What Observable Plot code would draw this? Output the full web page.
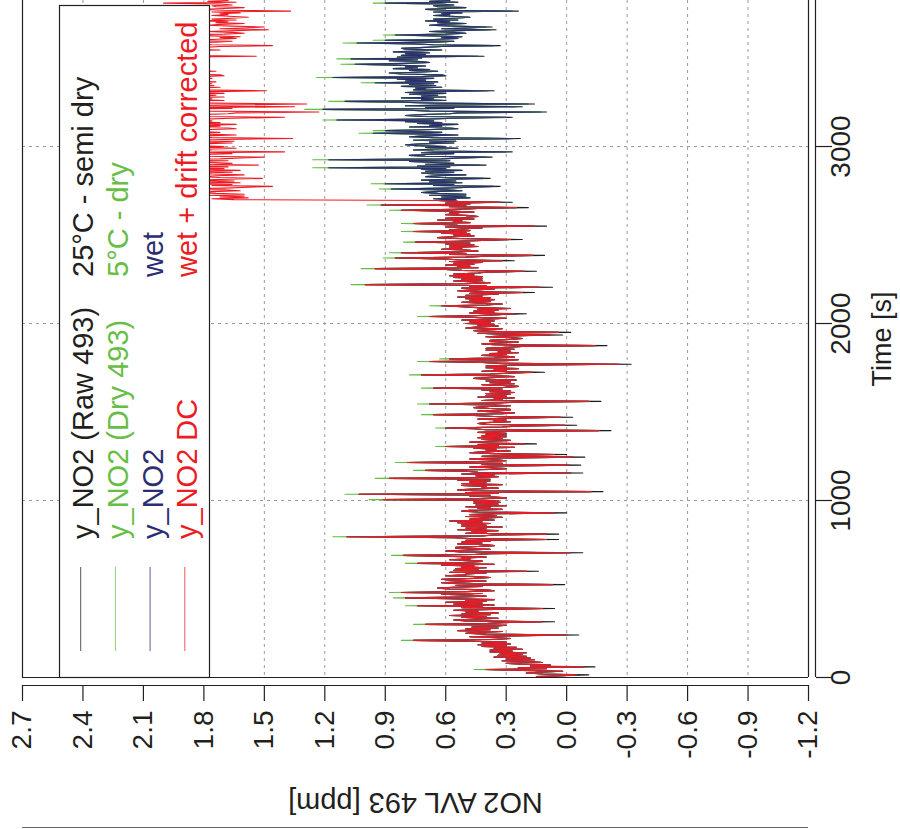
<!DOCTYPE html>
<html><head><meta charset="utf-8">
<script src="https://cdn.jsdelivr.net/npm/d3@7"></script>
<script src="https://cdn.jsdelivr.net/npm/@observablehq/plot@0.6"></script>
<style>html,body{margin:0;padding:0;background:#fff;}#chart svg{display:block;}</style>
</head><body><div id="chart"></div>
<script>
// sampling grid [s]: one reading every 5 s, 0 … 3825 s
const times = d3.range(0, 3826, 5);

const raw = [
.08,.15,.02,-.11,.12,.20,.14,.02,.22,.40,.10,.24,-.14,.18,.08,.22,.30,.12,.18,.32,.16,.30,.18,.36,.20,.34,.22,.33,.20,.38,
.27,.38,.22,.36,.25,.42,.30,.44,.28,.42,.30,.48,.76,.36,.28,.35,.48,.30,-.06,.40,.50,.44,.32,.54,.38,.50,.34,.47,.36,.30,
.70,.40,.32,.06,.50,.56,.45,.34,.52,.40,.58,.38,.52,.34,.50,.44,.56,.36,.06,.52,.42,.74,.36,.56,.42,.60,.40,.50,.36,.58,
.80,.52,.40,.48,.62,.42,.82,.50,.36,.40,.58,.64,.56,.42,.55,.01,.54,.62,.52,.40,.58,.62,.46,.38,.45,.60,.50,.50,.40,.58,
.14,.56,.44,.55,.40,.52,.46,.62,.36,.74,.52,.42,.42,.58,.48,.52,.40,.62,.81,.46,.38,-.08,.52,.60,.48,.38,.55,.55,.44,.36,
.40,.54,.42,.52,.38,.50,.04,.48,.56,1.09,.42,.36,.04,.50,.40,.47,.34,.54,.40,.50,.32,.52,.40,.52,.38,.54,.42,.58,.36,.48,
.42,.32,.50,.35,.48,.36,.00,.44,.52,.48,.32,.44,.38,.50,.30,.45,.34,.46,.33,.46,.34,.91,.42,.30,.36,.48,.38,1.03,.34,.50,
-.18,.46,.54,.46,.34,.42,.40,.52,.32,.52,.40,.48,.38,.54,.38,.88,.46,.34,.45,.36,.52,-.08,.44,.50,.70,.38,.30,.38,.48,.36,
-.07,.42,.32,.79,.44,.30,.35,.48,.34,-.09,.42,.30,.00,.36,.48,.42,.28,.40,.35,.46,.26,.60,.34,.44,.15,.38,.48,.38,.28,.42,
.32,.44,.30,.42,.30,.40,.30,.44,.32,-.22,.40,.46,.60,.32,.26,-.05,.40,.44,.40,.28,.36,.30,.44,.32,-.03,.36,.46,.66,.32,.26,
.35,.44,.28,.28,.38,.46,.42,.28,.36,.68,.38,.26,-.17,.42,.32,.36,.26,.44,.30,.40,.28,.40,.26,.38,.28,.42,.32,.66,.30,.24,
.32,.42,.26,.38,.28,.40,.25,.38,.46,.40,.26,.34,.72,.38,.26,.11,.42,.30,.36,.24,.40,.30,.40,.28,-.32,.32,.42,.68,.30,.24,
.58,.36,.26,.30,.42,.30,.38,.24,.34,.28,.40,.26,.40,.30,.22,-.20,.36,.42,.33,.24,.38,.38,.28,.22,.28,.40,.30,.02,.32,.44,
-.02,.34,.46,.40,.32,.50,.45,.34,.44,.36,.50,.38,.48,.36,.52,.40,.30,.46,.68,.44,.34,.20,.48,.36,.46,.34,.44,.28,.44,.52,
.62,.40,.32,.42,.52,.38,.48,.36,.50,.38,.54,.42,.50,.34,.48,.16,.46,.54,.45,.36,.52,.07,.48,.40,1.00,.50,.38,.46,.56,.42,
.52,.42,.56,.42,.58,.46,.56,.44,.40,.15,.52,.60,.95,.44,.54,.48,.60,.46,.56,.42,.58,.26,.54,.62,.85,.50,.40,.11,.58,.50,
.82,.54,.44,.50,.62,.52,.58,.44,.58,.46,.60,.48,.75,.54,.42,.22,.56,.64,.56,.46,.56,.48,.62,.50,.76,.48,.58,.50,.42,.60,
.10,.54,.62,.76,.48,.56,.52,.64,.46,.60,.50,.44,.48,.60,.54,.58,.46,.58,.82,.56,.44,.19,.58,.50,.92,.48,.60,.27,.54,.64,
.55,.66,.48,.62,.50,.68,.50,.64,.72,.66,.52,.60,.87,.60,.48,.33,.66,.56,.90,.52,.68,.55,.72,.58,.38,.62,.70,.64,.50,.66,
.72,.56,.70,.52,.72,.60,1.18,.58,.74,.40,.70,.56,.66,.78,.58,1.18,.62,.52,.37,.70,.78,.70,.56,.72,.27,.66,.76,.68,.54,.70,
.60,.74,.80,.72,.56,.68,.55,.76,.60,.23,.66,.78,.70,.54,.68,.96,.62,.76,.90,.70,.54,.58,.78,.62,.68,.54,.74,.62,.80,.66,
1.14,.70,.56,.27,.72,.80,.72,.58,.54,.10,.68,.78,1.21,.56,.70,.22,.80,.62,.16,.66,.82,1.10,.60,.72,.66,.82,.60,.72,.64,.78,
.60,.80,.66,.36,.76,.70,.75,.62,.82,.65,.78,.66,.95,.64,.80,.70,.84,.66,1.16,.72,.60,.62,.82,.88,.74,.64,.78,.68,.86,.74,
.80,.70,.86,1.05,.80,.68,.72,.88,.74,1.07,.72,.84,.41,.82,.70,.80,.68,.86,.74,.62,.80,.82,.70,.62,.33,.66,.76,1.04,.64,.56,
.90,.66,.54,.62,.52,.66,.85,.60,.50,.56,.68,.54,.35,.62,.50,.37,.56,.68,.62,.50,.64,.58,.70,.54,.66,.56,.48,.55,.66,.58,
.62,.52,.66,.24,.60,.70,.60,.50,.64,.66,.56,.62,.90,.54,.68,.58];

const dry = [
.08,.15,.02,-.05,.12,.20,.14,.02,.22,.46,.10,.24,-.08,.18,.08,.22,.30,.12,.18,.32,.16,.30,.18,.36,.20,.34,.22,.33,.20,.38,
.27,.38,.22,.36,.25,.42,.30,.44,.28,.42,.30,.48,.82,.36,.28,.35,.48,.30,.00,.40,.50,.44,.32,.54,.38,.50,.34,.47,.36,.30,
.76,.40,.32,.12,.50,.56,.45,.34,.52,.40,.58,.38,.52,.34,.50,.44,.56,.36,.12,.52,.42,.80,.36,.56,.42,.60,.40,.50,.36,.58,
.86,.52,.40,.48,.62,.42,.88,.50,.36,.40,.58,.64,.56,.42,.55,.07,.54,.62,.52,.40,.58,.62,.46,.38,.45,.60,.50,.50,.40,.58,
.20,.56,.44,.55,.40,.52,.46,.62,.36,.80,.52,.42,.42,.58,.48,.52,.40,.62,.87,.46,.38,-.02,.52,.60,.48,.38,.55,.55,.44,.36,
.40,.54,.42,.52,.38,.50,.10,.48,.56,1.16,.42,.36,.10,.50,.40,.47,.34,.54,.40,.50,.32,.52,.40,.52,.38,.54,.42,.58,.36,.48,
.42,.32,.50,.35,.48,.36,.06,.44,.52,.48,.32,.44,.38,.50,.30,.45,.34,.46,.33,.46,.34,.98,.42,.30,.36,.48,.38,1.10,.34,.50,
-.12,.46,.54,.46,.34,.42,.40,.52,.32,.52,.40,.48,.38,.54,.38,.95,.46,.34,.45,.36,.52,-.02,.44,.50,.76,.38,.30,.38,.48,.36,
-.01,.42,.32,.85,.44,.30,.35,.48,.34,-.03,.42,.30,.06,.36,.48,.42,.28,.40,.35,.46,.26,.65,.34,.44,.21,.38,.48,.38,.28,.42,
.32,.44,.30,.42,.30,.40,.30,.44,.32,-.16,.40,.46,.65,.32,.26,.01,.40,.44,.40,.28,.36,.30,.44,.32,.03,.36,.46,.72,.32,.26,
.35,.44,.28,.28,.38,.46,.42,.28,.36,.74,.38,.26,-.11,.42,.32,.36,.26,.44,.30,.40,.28,.40,.26,.38,.28,.42,.32,.72,.30,.24,
.32,.42,.26,.38,.28,.40,.25,.38,.46,.40,.26,.34,.78,.38,.26,.17,.42,.30,.36,.24,.40,.30,.40,.28,-.26,.32,.42,.74,.30,.24,
.63,.36,.26,.30,.42,.30,.38,.24,.34,.28,.40,.26,.40,.30,.22,-.14,.36,.42,.33,.24,.38,.38,.28,.22,.28,.40,.30,.08,.32,.44,
.04,.34,.46,.40,.32,.50,.45,.34,.44,.36,.50,.38,.48,.36,.52,.40,.30,.46,.74,.44,.34,.26,.48,.36,.46,.34,.44,.28,.44,.52,
.68,.40,.32,.42,.52,.38,.48,.36,.50,.38,.54,.42,.50,.34,.48,.22,.46,.54,.45,.36,.52,.13,.48,.40,1.07,.50,.38,.46,.56,.42,
.52,.42,.56,.42,.58,.46,.56,.44,.40,.21,.52,.60,1.02,.44,.54,.48,.60,.46,.56,.42,.58,.32,.54,.62,.91,.50,.40,.17,.58,.50,
.88,.54,.44,.50,.62,.52,.58,.44,.58,.46,.60,.48,.81,.54,.42,.28,.56,.64,.56,.46,.56,.48,.62,.50,.82,.48,.58,.50,.42,.60,
.16,.54,.62,.82,.48,.56,.52,.64,.46,.60,.50,.44,.48,.60,.54,.58,.46,.58,.88,.56,.44,.25,.58,.50,.99,.48,.60,.33,.54,.64,
.55,.66,.48,.62,.50,.68,.50,.64,.72,.66,.52,.60,.93,.60,.48,.36,.66,.56,.97,.52,.68,.55,.72,.58,.41,.62,.70,.64,.50,.66,
.72,.56,.70,.52,.72,.60,1.26,.58,.74,.43,.70,.56,.66,.78,.58,1.26,.62,.52,.40,.70,.78,.70,.56,.72,.30,.66,.76,.68,.54,.70,
.60,.74,.80,.72,.56,.68,.55,.76,.60,.26,.66,.78,.70,.54,.68,1.03,.62,.76,.96,.70,.54,.58,.78,.62,.68,.54,.74,.62,.80,.66,
1.21,.70,.56,.30,.72,.80,.72,.58,.54,.13,.68,.78,1.30,.56,.70,.25,.80,.62,.19,.66,.82,1.18,.60,.72,.66,.82,.60,.72,.64,.78,
.60,.80,.66,.39,.76,.70,.75,.62,.82,.65,.78,.66,1.02,.64,.80,.70,.84,.66,1.24,.72,.60,.62,.82,.88,.74,.64,.78,.68,.86,.74,
.80,.70,.86,1.12,.80,.68,.72,.88,.74,1.14,.72,.84,.44,.82,.70,.80,.68,.86,.74,.62,.80,.82,.70,.62,.36,.66,.76,1.11,.64,.56,
.96,.66,.54,.62,.52,.66,.91,.60,.50,.56,.68,.54,.38,.62,.50,.40,.56,.68,.62,.50,.64,.58,.70,.54,.66,.56,.48,.55,.66,.58,
.62,.52,.66,.27,.60,.70,.60,.50,.64,.66,.56,.62,.96,.54,.68,.58];

const wet = [
.08,.15,.02,-.05,.12,.20,.14,.02,.22,.40,.10,.24,-.08,.18,.08,.22,.30,.12,.18,.32,.16,.30,.18,.36,.20,.34,.22,.33,.20,.38,
.27,.38,.22,.36,.25,.42,.30,.44,.28,.42,.30,.48,.76,.36,.28,.35,.48,.30,.00,.40,.50,.44,.32,.54,.38,.50,.34,.47,.36,.30,
.70,.40,.32,.12,.50,.56,.45,.34,.52,.40,.58,.38,.52,.34,.50,.44,.56,.36,.12,.52,.42,.74,.36,.56,.42,.60,.40,.50,.36,.58,
.80,.52,.40,.48,.62,.42,.82,.50,.36,.40,.58,.64,.56,.42,.55,.07,.54,.62,.52,.40,.58,.62,.46,.38,.45,.60,.50,.50,.40,.58,
.20,.56,.44,.55,.40,.52,.46,.62,.36,.74,.52,.42,.42,.58,.48,.52,.40,.62,.81,.46,.38,-.02,.52,.60,.48,.38,.55,.55,.44,.36,
.40,.54,.42,.52,.38,.50,.10,.48,.56,1.09,.42,.36,.10,.50,.40,.47,.34,.54,.40,.50,.32,.52,.40,.52,.38,.54,.42,.58,.36,.48,
.42,.32,.50,.35,.48,.36,.06,.44,.52,.48,.32,.44,.38,.50,.30,.45,.34,.46,.33,.46,.34,.91,.42,.30,.36,.48,.38,1.03,.34,.50,
-.12,.46,.54,.46,.34,.42,.40,.52,.32,.52,.40,.48,.38,.54,.38,.88,.46,.34,.45,.36,.52,-.02,.44,.50,.70,.38,.30,.38,.48,.36,
-.01,.42,.32,.79,.44,.30,.35,.48,.34,-.03,.42,.30,.06,.36,.48,.42,.28,.40,.35,.46,.26,.60,.34,.44,.21,.38,.48,.38,.28,.42,
.32,.44,.30,.42,.30,.40,.30,.44,.32,-.16,.40,.46,.60,.32,.26,.01,.40,.44,.40,.28,.36,.30,.44,.32,.03,.36,.46,.66,.32,.26,
.35,.44,.28,.28,.38,.46,.42,.28,.36,.68,.38,.26,-.11,.42,.32,.36,.26,.44,.30,.40,.28,.40,.26,.38,.28,.42,.32,.66,.30,.24,
.32,.42,.26,.38,.28,.40,.25,.38,.46,.40,.26,.34,.72,.38,.26,.17,.42,.30,.36,.24,.40,.30,.40,.28,-.26,.32,.42,.68,.30,.24,
.58,.36,.26,.30,.42,.30,.38,.24,.34,.28,.40,.26,.40,.30,.22,-.14,.36,.42,.33,.24,.38,.38,.28,.22,.28,.40,.30,.08,.32,.44,
.04,.34,.46,.40,.32,.50,.45,.34,.44,.36,.50,.38,.48,.36,.52,.40,.30,.46,.68,.44,.34,.26,.48,.36,.46,.34,.44,.28,.44,.52,
.62,.40,.32,.42,.52,.38,.48,.36,.50,.38,.54,.42,.50,.34,.48,.22,.46,.54,.45,.36,.52,.13,.48,.40,1.00,.50,.38,.46,.56,.42,
.52,.42,.56,.42,.58,.46,.56,.44,.40,.21,.52,.60,.95,.44,.54,.48,.60,.46,.56,.42,.58,.32,.54,.62,.85,.50,.40,.17,.58,.50,
.82,.54,.44,.50,.62,.52,.58,.44,.58,.46,.60,.48,.75,.54,.42,.28,.56,.64,.56,.46,.56,.48,.62,.50,.76,.48,.58,.50,.42,.60,
.16,.54,.62,.76,.48,.56,.52,.64,.46,.60,.50,.44,.48,.60,.54,.58,.46,.58,.82,.56,.44,.25,.58,.50,.92,.48,.60,.33,.54,.64,
.55,.66,.48,.62,.50,.68,.50,.64,.72,.66,.52,.60,.87,.60,.48,.36,.66,.56,.90,.52,.68,.55,.72,.58,.41,.62,.70,.64,.50,.66,
.72,.56,.70,.52,.72,.60,1.18,.58,.74,.43,.70,.56,.66,.78,.58,1.18,.62,.52,.40,.70,.78,.70,.56,.72,.30,.66,.76,.68,.54,.70,
.60,.74,.80,.72,.56,.68,.55,.76,.60,.26,.66,.78,.70,.54,.68,.96,.62,.76,.90,.70,.54,.58,.78,.62,.68,.54,.74,.62,.80,.66,
1.14,.70,.56,.30,.72,.80,.72,.58,.54,.13,.68,.78,1.21,.56,.70,.25,.80,.62,.19,.66,.82,1.10,.60,.72,.66,.82,.60,.72,.64,.78,
.60,.80,.66,.39,.76,.70,.75,.62,.82,.65,.78,.66,.95,.64,.80,.70,.84,.66,1.16,.72,.60,.62,.82,.88,.74,.64,.78,.68,.86,.74,
.80,.70,.86,1.05,.80,.68,.72,.88,.74,1.07,.72,.84,.44,.82,.70,.80,.68,.86,.74,.62,.80,.82,.70,.62,.36,.66,.76,1.04,.64,.56,
.90,.66,.54,.62,.52,.66,.85,.60,.50,.56,.68,.54,.38,.62,.50,.40,.56,.68,.62,.50,.64,.58,.70,.54,.66,.56,.48,.55,.66,.58,
.62,.52,.66,.27,.60,.70,.60,.50,.64,.66,.56,.62,.90,.54,.68,.58];

const dc = [
.08,.15,.02,-.05,.12,.20,.14,.02,.22,.40,.10,.24,-.08,.18,.08,.22,.30,.12,.18,.32,.16,.30,.18,.36,.20,.34,.22,.33,.20,.38,
.27,.38,.22,.36,.25,.42,.30,.44,.28,.42,.30,.48,.76,.36,.28,.35,.48,.30,.00,.40,.50,.44,.32,.54,.38,.50,.34,.47,.36,.30,
.70,.40,.32,.12,.50,.56,.45,.34,.52,.40,.58,.38,.52,.34,.50,.44,.56,.36,.12,.52,.42,.74,.36,.56,.42,.60,.40,.50,.36,.58,
.80,.52,.40,.48,.62,.42,.82,.50,.36,.40,.58,.64,.56,.42,.55,.07,.54,.62,.52,.40,.58,.62,.46,.38,.45,.60,.50,.50,.40,.58,
.20,.56,.44,.55,.40,.52,.46,.62,.36,.74,.52,.42,.42,.58,.48,.52,.40,.62,.81,.46,.38,-.02,.52,.60,.48,.38,.55,.55,.44,.36,
.40,.54,.42,.52,.38,.50,.10,.48,.56,1.09,.42,.36,.10,.50,.40,.47,.34,.54,.40,.50,.32,.52,.40,.52,.38,.54,.42,.58,.36,.48,
.42,.32,.50,.35,.48,.36,.06,.44,.52,.48,.32,.44,.38,.50,.30,.45,.34,.46,.33,.46,.34,.91,.42,.30,.36,.48,.38,1.03,.34,.50,
-.12,.46,.54,.46,.34,.42,.40,.52,.32,.52,.40,.48,.38,.54,.38,.88,.46,.34,.45,.36,.52,-.02,.44,.50,.70,.38,.30,.38,.48,.36,
-.01,.42,.32,.79,.44,.30,.35,.48,.34,-.03,.42,.30,.06,.36,.48,.42,.28,.40,.35,.46,.26,.60,.34,.44,.21,.38,.48,.38,.28,.42,
.32,.44,.30,.42,.30,.40,.30,.44,.32,-.16,.40,.46,.60,.32,.26,.01,.40,.44,.40,.28,.36,.30,.44,.32,.03,.36,.46,.66,.32,.26,
.35,.44,.28,.28,.38,.46,.42,.28,.36,.68,.38,.26,-.11,.42,.32,.36,.26,.44,.30,.40,.28,.40,.26,.38,.28,.42,.32,.66,.30,.24,
.32,.42,.26,.38,.28,.40,.25,.38,.46,.40,.26,.34,.72,.38,.26,.17,.42,.30,.36,.24,.40,.30,.40,.28,-.26,.32,.42,.68,.30,.24,
.58,.36,.26,.30,.42,.30,.38,.24,.34,.28,.40,.26,.40,.30,.22,-.14,.36,.42,.33,.24,.38,.38,.28,.22,.28,.40,.30,.08,.32,.44,
.04,.34,.46,.40,.32,.50,.45,.34,.44,.36,.50,.38,.48,.36,.52,.40,.30,.46,.68,.44,.34,.26,.48,.36,.46,.34,.44,.28,.44,.52,
.62,.40,.32,.42,.52,.38,.48,.36,.50,.38,.54,.42,.50,.34,.48,.22,.46,.54,.45,.36,.52,.13,.48,.40,1.00,.50,.38,.46,.56,.42,
.52,.42,.56,.42,.58,.46,.56,.44,.40,.21,.52,.60,.95,.44,.54,.48,.60,.46,.56,.42,.58,.32,.54,.62,.85,.50,.40,.17,.58,.50,
.82,.54,.44,.50,.62,.52,.58,.44,.58,.46,.60,.48,.75,.54,.42,.28,.56,.64,.56,.46,.56,.48,.62,.50,.76,.48,.58,.50,.42,.60,
.16,.54,.62,.76,.48,.56,.52,.64,.46,.60,.50,.44,.48,.60,.54,.58,.46,.58,.82,.56,.44,.25,.58,.50,.92,.48,.60,.33,.54,.64,
1.65,1.76,1.58,1.72,1.60,1.78,1.60,1.74,1.82,1.76,1.62,1.70,1.97,1.70,1.58,1.46,1.76,1.66,2.00,1.62,1.78,1.65,1.82,1.68,1.51,1.72,1.80,1.74,1.60,1.76,
1.82,1.66,1.80,1.62,1.82,1.70,2.28,1.68,1.84,1.53,1.80,1.66,1.76,1.88,1.68,2.28,1.72,1.62,1.50,1.80,1.88,1.80,1.66,1.82,1.40,1.76,1.86,1.78,1.64,1.80,
1.70,1.84,1.90,1.82,1.66,1.78,1.65,1.86,1.70,1.36,1.76,1.88,1.80,1.64,1.78,2.06,1.72,1.86,2.00,1.80,1.64,1.68,1.88,1.72,1.78,1.64,1.84,1.72,1.90,1.76,
2.24,1.80,1.66,1.40,1.82,1.90,1.82,1.68,1.64,1.23,1.78,1.88,2.31,1.66,1.80,1.35,1.90,1.72,1.29,1.76,1.92,2.20,1.70,1.82,1.76,1.92,1.70,1.82,1.74,1.88,
1.70,1.90,1.76,1.49,1.86,1.80,1.85,1.72,1.92,1.75,1.88,1.76,2.05,1.74,1.90,1.80,1.94,1.76,2.26,1.82,1.70,1.72,1.92,1.98,1.84,1.74,1.88,1.78,1.96,1.84,
1.90,1.80,1.96,2.15,1.90,1.78,1.82,1.98,1.84,2.17,1.82,1.94,1.54,1.92,1.80,1.90,1.78,1.96,1.84,1.72,1.90,1.92,1.80,1.72,1.46,1.76,1.86,2.14,1.74,1.66,
2.00,1.76,1.64,1.72,1.62,1.76,1.95,1.70,1.60,1.66,1.78,1.64,1.48,1.72,1.60,1.50,1.66,1.78,1.72,1.60,1.74,1.68,1.80,1.64,1.76,1.66,1.58,1.65,1.76,1.68,
1.72,1.62,1.76,1.37,1.70,1.80,1.70,1.60,1.74,1.76,1.66,1.72,2.00,1.64,1.78,1.68];

const no2Ticks = [2.7, 2.4, 2.1, 1.8, 1.5, 1.2, 0.9, 0.6, 0.3, 0.0, -0.3, -0.6, -0.9, -1.2];
const timeTicks = [0, 1000, 2000, 3000];
const seriesNames = ["y_NO2 (Raw 493)", "y_NO2 (Dry 493)", "y_NO2", "y_NO2 DC"];
const seriesNotes = ["25°C - semi dry", "5°C - dry", "wet", "wet + drift corrected"];
const seriesColors = ["#231f20", "#67bd45", "#2b2e72", "#ed1c24"];

const pair = (ts, vs) => d3.range(Math.min(ts.length, vs.length)).map(i => ({t: ts[i], v: vs[i]}));
const rawRows = pair(times, raw), dryRows = pair(times, dry), wetRows = pair(times, wet), dcRows = pair(times, dc);

const FONT = "'Liberation Sans', Arial, Helvetica, sans-serif";
const ink = "#231f20";
const LW = 1.1;

const chart = Plot.plot({
  width: 900, height: 829,
  marginLeft: 22, marginRight: 92, marginTop: 0, marginBottom: 152,
  style: {fontFamily: FONT, fontSize: "28px", background: "#fff", color: ink},
  x: {domain: [2.7, -1.2], label: null},
  y: {domain: [0, 3825], label: null},
  marks: [
    Plot.ruleX(no2Ticks.slice(1, -1), {stroke: "#9a9a9a", strokeDasharray: "3,4", strokeWidth: 1}),
    Plot.ruleY(timeTicks.slice(1), {stroke: "#9a9a9a", strokeDasharray: "3,4", strokeWidth: 1}),
    Plot.line(rawRows, {x: "v", y: "t", stroke: seriesColors[0], strokeWidth: LW, clip: true}),
    Plot.line(dryRows, {x: "v", y: "t", stroke: seriesColors[1], strokeWidth: LW, clip: true}),
    Plot.line(wetRows, {x: "v", y: "t", stroke: seriesColors[2], strokeWidth: LW, clip: true}),
    Plot.line(dcRows, {x: "v", y: "t", stroke: seriesColors[3], strokeWidth: LW, clip: true}),
    // legend box (top-left corner of the original, unrotated figure)
    Plot.frame({fill: "#fff", stroke: ink, strokeWidth: 1.2, insetLeft: 37, insetRight: 599, insetTop: 5}),
    // plot box
    Plot.ruleX([2.7, -1.2], {stroke: ink, strokeWidth: 1.2}),
    Plot.ruleY([0], {stroke: ink, strokeWidth: 1.2}),
    // detached axis lines
    Plot.ruleY([0], {dy: 8, stroke: ink, strokeWidth: 1.2}),
    Plot.ruleX([-1.2], {dx: 7, stroke: ink, strokeWidth: 1.2}),
    Plot.ruleY([0], {dy: 150, stroke: "#666", strokeWidth: 1}),
    Plot.axisX({ticks: no2Ticks, anchor: "bottom", tickSize: 16, dy: 8, tickPadding: 9, tickRotate: -90,
      tickFormat: d => d.toFixed(1), label: null, fontSize: 28, strokeWidth: 1.2}),
    Plot.axisY({ticks: timeTicks, anchor: "right", tickSize: 16, dx: 7, tickPadding: 18, tickRotate: -90,
      tickFormat: d => String(d), label: null, fontSize: 28, strokeWidth: 1.2}),
    Plot.text(["Time [s]"], {text: d => d, frameAnchor: "right", dx: 74, rotate: -90,
      textAnchor: "middle", lineAnchor: "middle", fontSize: 27, fill: ink}),
    Plot.text(["NO2 AVL 493 [ppm]"], {text: d => d, frameAnchor: "bottom", dy: 125, rotate: 180,
      textAnchor: "middle", lineAnchor: "middle", fontSize: 29, fill: ink})
  ]
});

// legend entries (drawn inside the legend box)
const svg = d3.select(chart);
const lg = svg.append("g").attr("font-family", FONT).attr("font-size", 29).attr("text-anchor", "start");
seriesNames.forEach((name, i) => {
  const x = 80.7 + i * 34.7;
  lg.append("line").attr("x1", x).attr("x2", x).attr("y1", 567).attr("y2", 651)
    .attr("stroke", seriesColors[i]).attr("stroke-width", 1).attr("stroke-opacity", 0.75);
  lg.append("text").attr("transform", `translate(${x + 2.5},539) rotate(-90)`)
    .attr("dy", "0.35em").attr("fill", seriesColors[i]).attr("text-anchor", "start").text(name);
  lg.append("text").attr("transform", `translate(${x + 2.5},277) rotate(-90)`)
    .attr("dy", "0.35em").attr("fill", seriesColors[i]).attr("text-anchor", "start").text(seriesNotes[i]);
});

document.getElementById("chart").appendChild(chart);
</script></body></html>
